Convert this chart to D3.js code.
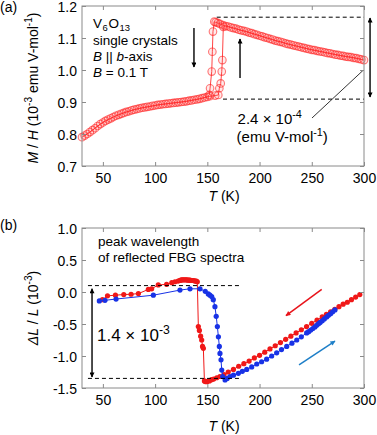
<!DOCTYPE html>
<html>
<head>
<meta charset="utf-8">
<script src="https://cdn.jsdelivr.net/npm/d3@7"></script>
<style>
  body { margin: 0; background: #fff; }
  text { font-family: "Liberation Sans", Arial, sans-serif; white-space: pre; }
</style>
</head>
<body>
<svg id="chart" width="377" height="435"></svg>
<script>
// ---- panel (a): M/H, cooling and heating runs
const aCoolT = [300,295,290,285,280,275,270,265,260,255,250,245,240,235,230,225,220,215,210,205,200,195,190,185,180,175,170,165,162,160,158,156.7,
  155.4,154.8,154.2,152.6,151.9,150,145,140,135,130,125,120,115,110,105,100,95,90,85,80,75,70,65,60,55,50,45,40,35,30];
const aCoolV = [1.031,1.035,1.038,1.041,1.044,1.047,1.050,1.053,1.057,1.060,1.063,1.067,1.071,1.075,1.079,1.083,1.088,1.092,1.097,1.102,1.107,1.112,1.117,1.122,1.126,1.131,1.136,1.140,1.144,1.147,1.149,1.151,
  1.120,1.057,0.995,0.943,0.922,0.916,0.912,0.908,0.905,0.902,0.900,0.898,0.896,0.894,0.892,0.889,0.886,0.883,0.880,0.876,0.871,0.866,0.860,0.853,0.845,0.836,0.825,0.812,0.800,0.790];
const aHeatT = [32.5,37.5,42.5,47.5,52.5,57.5,62.5,67.5,72.5,77.5,82.5,87.5,92.5,97.5,102.5,107.5,112.5,117.5,122.5,127.5,132.5,137.5,142.5,147.5,152.5,157.5,160.5,
  161.5,162.8,163.8,164.4,165.3,167.5,172.5,177.5,182.5,187.5,192.5,197.5,202.5,207.5,212.5,217.5,222.5,227.5,232.5,237.5,242.5,247.5,252.5,257.5,262.5,267.5,272.5,277.5,282.5,287.5,292.5,297.5];
const aHeatV = [0.795,0.806,0.818,0.831,0.841,0.849,0.857,0.863,0.869,0.874,0.878,0.882,0.885,0.888,0.891,0.893,0.895,0.897,0.899,0.901,0.904,0.907,0.910,0.914,0.918,0.920,0.922,
  0.943,0.958,0.995,1.031,1.135,1.137,1.133,1.129,1.124,1.120,1.115,1.110,1.105,1.100,1.095,1.090,1.086,1.081,1.077,1.073,1.069,1.065,1.062,1.058,1.055,1.052,1.048,1.045,1.042,1.040,1.037,1.033];

// ---- panel (b): dL/L, cooling (red) and heating (blue)
const bCoolT = [296,292,288,284,280,276,272,268,264,260,255,250,245,240,235,230,225,220,215,210,205,200,195,190,185,180,175,170,166,162,159,156,154,152,150,149,148,147.2,
  146.2,145.4,144.6,143.6,142.4,141.4,140.4,139.5,138.5,137.5,136.5,135.5,134.5,133.5,132.5,131.5,130.5,129.5,128.5,127.5,126.5,125.5,124.5,123.5,122,119,116,111,103,96.7,93.5,84,77,70,62,54.4,49.6];
const bCoolV = [-0.04,-0.08,-0.12,-0.16,-0.19,-0.23,-0.27,-0.31,-0.35,-0.39,-0.44,-0.49,-0.54,-0.59,-0.64,-0.69,-0.74,-0.79,-0.84,-0.89,-0.94,-0.99,-1.03,-1.08,-1.12,-1.16,-1.21,-1.25,-1.29,-1.32,-1.34,-1.36,-1.37,-1.39,-1.40,-1.40,-1.40,-1.39,
  -0.88,-0.85,-0.75,-0.69,-0.60,-0.54,0.16,0.17,0.17,0.175,0.18,0.18,0.18,0.185,0.185,0.185,0.19,0.19,0.19,0.19,0.19,0.19,0.185,0.18,0.17,0.16,0.145,0.12,0.11,0.05,0.04,-0.025,-0.035,-0.04,-0.05,-0.06,-0.12];
const bHeatT = [46.6,52,62.6,98.3,123.8,133.4,143,148,150.9,152.5,154.2,155.7,157.3,158.5,159.6,160.6,161.5,162.1,163.1,163.8,164.7,167,169,171.7,175,179.7,183.5,187.7,192.5,197.3,202,206.8,211.6,216.4,221,226,231,235.6,240,245.1,
  247,249,251,253,254.7,256.5,258,260,262,264.3,266,268,270,272.2];
const bHeatV = [-0.14,-0.13,-0.11,-0.05,0.03,0.05,0.05,0.01,-0.03,-0.05,-0.07,-0.12,-0.23,-0.38,-0.54,-0.70,-0.85,-0.96,-1.06,-1.22,-1.32,-1.375,-1.35,-1.32,-1.30,-1.27,-1.24,-1.21,-1.17,-1.125,-1.09,-1.05,-1.00,-0.95,-0.90,-0.85,-0.80,-0.75,-0.70,-0.64,
  -0.62,-0.595,-0.57,-0.545,-0.52,-0.495,-0.475,-0.45,-0.42,-0.39,-0.365,-0.34,-0.31,-0.28];

const tTicks = [50,100,150,200,250,300];
const aTicks = [0.7,0.8,0.9,1.0,1.1,1.2];
const bTicks = [-1.5,-1.0,-0.5,0.0,0.5,1.0];

const svg = d3.select('#chart');
const FRAME = '#8a8a8a';

// arrow heads
const defs = svg.append('defs');
[['k','#000'],['r','#e8141b'],['bl','#1e7fc8']].forEach(([id, c]) => {
  defs.append('marker').attr('id', 'ah-' + id)
    .attr('viewBox', '0 0 10 10').attr('refX', 9).attr('refY', 5)
    .attr('markerWidth', 6).attr('markerHeight', 5).attr('markerUnits', 'userSpaceOnUse')
    .attr('orient', 'auto-start-reverse')
    .append('path').attr('d', 'M0,0L10,5L0,10Z').attr('fill', c);
});

// rich text: parts = [[text, flag]] flag in '', 'i', 'sup', 'sub'
function rich(sel, parts, fs) {
  let shift = 0;
  parts.forEach(([t, f]) => {
    let target = 0, size = fs;
    if (f === 'sup') { target = -fs * 0.42; size = fs * 0.72; }
    if (f === 'sub') { target = fs * 0.2; size = fs * 0.7; }
    const ts = sel.append('tspan').text(t).attr('dy', target - shift).attr('font-size', size);
    if (f === 'i') ts.attr('font-style', 'italic');
    if (f === 'sub' || shift > 0) ts.attr('dx', 0.6);
    shift = target;
  });
  return sel;
}

function frame(x, y, yTicks) {
  const g = svg.append('g');
  const [x0, x1] = x.range(), [y0, y1] = y.range();
  const fmt = d => d.toFixed(1);
  const bottom = g.append('g').attr('transform', `translate(0,${y0})`)
    .call(d3.axisBottom(x).tickValues(tTicks).tickSizeInner(-4).tickSizeOuter(0).tickPadding(7));
  const top = g.append('g').attr('transform', `translate(0,${y1})`)
    .call(d3.axisTop(x).tickValues(tTicks).tickSizeInner(-4).tickSizeOuter(0).tickFormat(''));
  const left = g.append('g').attr('transform', `translate(${x0},0)`)
    .call(d3.axisLeft(y).tickValues(yTicks).tickSizeInner(-4).tickSizeOuter(0).tickPadding(5).tickFormat(fmt));
  const right = g.append('g').attr('transform', `translate(${x1},0)`)
    .call(d3.axisRight(y).tickValues(yTicks).tickSizeInner(-4).tickSizeOuter(0).tickFormat(''));
  [bottom, top, left, right].forEach(a => {
    a.select('.domain').remove();
    a.selectAll('line').attr('stroke', FRAME);
    a.selectAll('text').attr('font-size', 14).attr('fill', '#000')
      .attr('font-family', '"Liberation Sans", Arial, sans-serif');
  });
  left.selectAll('text').attr('dy', '0.36em');
  g.append('rect').attr('x', x0).attr('y', y1).attr('width', x1 - x0).attr('height', y0 - y1)
    .attr('fill', 'none').attr('stroke', FRAME).attr('stroke-width', 1);
  return g;
}

function arrow(g, p1, p2, color, id, both, w) {
  g.append('line').attr('x1', p1[0]).attr('y1', p1[1]).attr('x2', p2[0]).attr('y2', p2[1])
    .attr('stroke', color).attr('stroke-width', w || 1.4)
    .attr('marker-end', `url(#ah-${id})`)
    .attr('marker-start', both ? `url(#ah-${id})` : null);
}

function dashed(g, xa, xb, yy) {
  g.append('line').attr('x1', xa).attr('x2', xb).attr('y1', yy).attr('y2', yy)
    .attr('stroke', '#000').attr('stroke-width', 1).attr('stroke-dasharray', '4,3');
}

// ================= panel (a)
const xa = d3.scaleLinear().domain([30, 300]).range([82, 364]);
const ya = d3.scaleLinear().domain([0.7, 1.2]).range([166, 6]);
const ga = svg.append('g');

const lineA = d3.line().x(d => xa(d[0])).y(d => ya(d[1]));
[[aCoolT, aCoolV], [aHeatT, aHeatV]].forEach(([T, V]) => {
  const pts = T.map((t, i) => [t, V[i]]);
  ga.append('path').attr('d', lineA(pts)).attr('fill', 'none')
    .attr('stroke', '#ff3030').attr('stroke-width', 0.9);
  ga.selectAll(null).data(pts).join('circle')
    .attr('cx', d => xa(d[0])).attr('cy', d => ya(d[1])).attr('r', 3.8)
    .attr('fill', '#ff5050').attr('fill-opacity', 0.12)
    .attr('stroke', '#ff2020').attr('stroke-opacity', 0.6).attr('stroke-width', 1.1);
});
frame(xa, ya, aTicks);

dashed(ga, xa(159), xa(300), ya(1.165));
dashed(ga, xa(165), xa(300), ya(0.909));
arrow(ga, [xa(305.8), ya(1.1625)], [xa(305.8), ya(0.916)], '#000', 'k', true);
arrow(ga, [xa(137.2), ya(1.131)], [xa(137.2), ya(1.009)], '#000', 'k', false);
arrow(ga, [xa(181.3), ya(0.975)], [xa(181.3), ya(1.097)], '#000', 'k', false);
ga.append('line').attr('x1', xa(250.2)).attr('y1', ya(0.85)).attr('x2', xa(299)).attr('y2', ya(0.9985))
  .attr('stroke', '#000').attr('stroke-width', 0.8);

rich(ga.append('text').attr('x', xa(179)).attr('y', 124),
  [['2.4 × 10', ''], ['-4', 'sup']], 15);
rich(ga.append('text').attr('x', xa(178)).attr('y', 142),
  [['(emu V-mol', ''], ['-1', 'sup'], [')', '']], 15);

rich(ga.append('text').attr('x', 93).attr('y', 28), [['V', ''], ['6', 'sub'], ['O', ''], ['13', 'sub']], 13.5);
ga.append('text').attr('x', 93).attr('y', 45).attr('font-size', 13.5).text('single crystals');
rich(ga.append('text').attr('x', 93).attr('y', 61), [['B', 'i'], [' || ', ''], ['b', 'i'], ['-axis', '']], 13.5);
rich(ga.append('text').attr('x', 93).attr('y', 77), [['B', 'i'], [' = 0.1 T', '']], 13.5);

svg.append('text').attr('x', 0).attr('y', 12).attr('font-size', 14).text('(a)');
rich(svg.append('text').attr('transform', 'translate(38,88) rotate(-90)').attr('text-anchor', 'middle'),
  [['M', 'i'], [' / ', ''], ['H', 'i'], [' (10', ''], ['-3', 'sup'], [' emu V-mol', ''], ['-1', 'sup'], [')', '']], 14);
rich(svg.append('text').attr('x', 224).attr('y', 201).attr('text-anchor', 'middle'),
  [['T', 'i'], [' (K)', '']], 14);

// ================= panel (b)
const xb = d3.scaleLinear().domain([30, 300]).range([82, 364]);
const yb = d3.scaleLinear().domain([-1.5, 1.0]).range([388, 228]);
const gb = svg.append('g');
frame(xb, yb, bTicks);

const lineB = d3.line().x(d => xb(d[0])).y(d => yb(d[1]));
[[bCoolT, bCoolV, '#f01818'], [bHeatT, bHeatV, '#1832e6']].forEach(([T, V, c]) => {
  const pts = T.map((t, i) => [t, V[i]]);
  gb.append('path').attr('d', lineB(pts)).attr('fill', 'none').attr('stroke', c).attr('stroke-width', 1);
  gb.selectAll(null).data(pts).join('circle')
    .attr('cx', d => xb(d[0])).attr('cy', d => yb(d[1])).attr('r', 2.6).attr('fill', c);
});

dashed(gb, xb(35.7), xb(181.3), yb(0.1));
dashed(gb, xb(35.7), xb(181.3), yb(-1.35));
arrow(gb, [xb(39.6), yb(0.05)], [xb(39.6), yb(-1.33)], '#000', 'k', true);
arrow(gb, [xb(259.5), yb(0.042)], [xb(225.3), yb(-0.37)], '#e8141b', 'r', false, 1.5);
arrow(gb, [xb(237.8), yb(-1.14)], [xb(272.2), yb(-0.766)], '#1e7fc8', 'bl', false, 1.5);

gb.append('text').attr('x', 98).attr('y', 246).attr('font-size', 13.5).text('peak wavelength');
gb.append('text').attr('x', 98).attr('y', 262).attr('font-size', 13.5).text('of reflected FBG spectra');
rich(gb.append('text').attr('x', 97).attr('y', 341), [['1.4 × 10', ''], ['-3', 'sup']], 17);

svg.append('text').attr('x', 0).attr('y', 230).attr('font-size', 14).text('(b)');
rich(svg.append('text').attr('transform', 'translate(38,308) rotate(-90)').attr('text-anchor', 'middle'),
  [['ΔL', 'i'], [' / ', ''], ['L', 'i'], [' (10', ''], ['-3', 'sup'], [')', '']], 14);
rich(svg.append('text').attr('x', 224).attr('y', 431).attr('text-anchor', 'middle'),
  [['T', 'i'], [' (K)', '']], 14);
</script>
</body>
</html>
